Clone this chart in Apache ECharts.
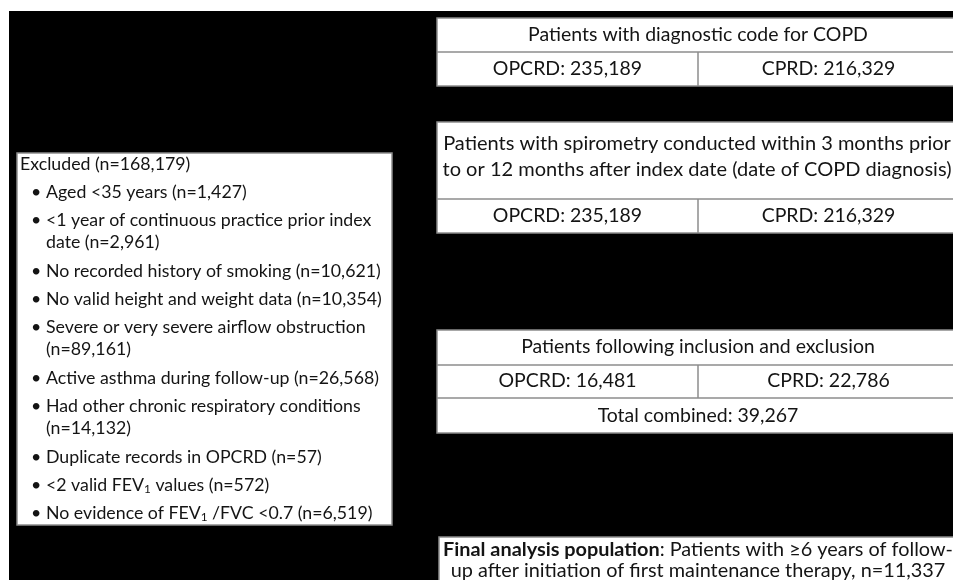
<!DOCTYPE html>
<html><head><meta charset="utf-8">
<script src="https://cdn.jsdelivr.net/npm/echarts@6/dist/echarts.min.js"></script>
<style>html,body{margin:0;padding:0;background:#fff}#c{width:953px;height:580px}</style>
</head><body><div id="c"></div>
<script>
// ---- content ----
const cohortTitle = 'Patients with diagnostic code for COPD';
const cohortCounts = ['OPCRD: 235,189', 'CPRD: 216,329'];
const spiroTitle = ['Patients with spirometry conducted within 3 months prior', 'to or 12 months after index date (date of COPD diagnosis)'];
const spiroCounts = ['OPCRD: 235,189', 'CPRD: 216,329'];
const includedTitle = 'Patients following inclusion and exclusion';
const includedCounts = ['OPCRD: 16,481', 'CPRD: 22,786'];
const includedTotal = 'Total combined: 39,267';
const excludedHeader = 'Excluded (n=168,179)';
const excludedItems = [
  ['Aged <35 years (n=1,427)'],
  ['<1 year of continuous practice prior index', 'date (n=2,961)'],
  ['No recorded history of smoking (n=10,621)'],
  ['No valid height and weight data (n=10,354)'],
  ['Severe or very severe airflow obstruction', '(n=89,161)'],
  ['Active asthma during follow-up (n=26,568)'],
  ['Had other chronic respiratory conditions', '(n=14,132)'],
  ['Duplicate records in OPCRD (n=57)'],
  ['<2 valid FEV{sub|1} values (n=572)'],
  ['No evidence of FEV{sub|1} /FVC <0.7 (n=6,519)']
];
const finalLines = ['{b|Final analysis population}: Patients with \u22656 years of follow-', 'up after initiation of first maintenance therapy, n=11,337'];

// ---- styling / layout ----
const FONT = 'Lato, "Open Sans", sans-serif';
const TXT = '#141414';
const BORDER = '#8c8c8c';
const ctx = document.createElement('canvas').getContext('2d');
function measure(t, size, weight) { ctx.font = (weight || 'normal') + ' ' + size + 'px ' + FONT; return ctx.measureText(t).width; }
const RS = 100 * 340 / measure(cohortTitle, 100);
const LS = 100 * 336 / measure('No valid height and weight data (n=10,354)', 100);
const SS = 100 * 508 / measure(spiroTitle[0], 100);
const FS = Math.min(SS, RS * 1.02);

const els = [];
function rect(x, y, w, h, fill, stroke) {
  els.push({ type: 'rect', shape: { x, y, width: w, height: h }, style: { fill, stroke: stroke || null, lineWidth: stroke ? 1.5 : 0 }, silent: true });
}
function line(x1, y1, x2, y2) {
  els.push({ type: 'line', shape: { x1, y1, x2, y2 }, style: { stroke: BORDER, lineWidth: 1.5 }, silent: true });
}
function richStyles(size) {
  return {
    n: { fontSize: size, fontFamily: FONT, fontWeight: 'normal', fill: TXT, verticalAlign: 'middle', lineHeight: 20 },
    b: { fontSize: size, fontFamily: FONT, fontWeight: 'bold', fill: TXT, verticalAlign: 'middle', lineHeight: 20 },
    sub: { fontSize: size * 0.66, fontFamily: FONT, fontWeight: 'normal', fill: TXT, verticalAlign: 'middle', lineHeight: size * 0.66, padding: [8, 0, 0, 0] }
  };
}
function text(t, x, y, size, align) {
  els.push({ type: 'text', x, y, silent: true, style: {
    text: t, fontSize: size, fontFamily: FONT, fill: TXT, lineHeight: 20,
    align: align || 'center', verticalAlign: 'middle', textAlign: align || 'center', textVerticalAlign: 'middle',
    rich: richStyles(size)
  }});
}

// background
rect(9, 11, 960, 580, '#000');

const X0 = 437, W = 522, MID = 698, C1 = (X0 + MID) / 2, C2 = (MID + X0 + W) / 2, CX = X0 + W / 2;

// box 1
rect(X0, 18, W, 68, '#fff', BORDER);
line(X0, 52, X0 + W, 52); line(MID, 52, MID, 86);
text(cohortTitle, CX, 35, RS);
text(cohortCounts[0], C1, 69, RS); text(cohortCounts[1], C2, 69, RS);

// box 2
rect(X0, 122, W, 111, '#fff', BORDER);
line(X0, 199, X0 + W, 199); line(MID, 199, MID, 233);
text(spiroTitle[0], CX - 1, 144, SS); text(spiroTitle[1], CX - 1, 170, SS);
text(spiroCounts[0], C1, 216, RS); text(spiroCounts[1], C2, 216, RS);

// box 3
rect(X0, 330, W, 103, '#fff', BORDER);
line(X0, 365, X0 + W, 365); line(X0, 398, X0 + W, 398); line(MID, 365, MID, 398);
text(includedTitle, CX, 347, RS);
text(includedCounts[0], C1, 381, RS); text(includedCounts[1], C2, 381, RS);
text(includedTotal, CX, 416, RS);

// final box
rect(439, 537, 530, 80, '#fff', BORDER);
text(finalLines[0], CX, 550, FS); text(finalLines[1], CX, 571, FS);

// excluded box
rect(17, 153, 375, 372, '#fff', BORDER);
text(excludedHeader, 20, 164, LS, 'left');
let y = 192;
excludedItems.forEach(item => {
  text('\u2022', 31, y, LS, 'left');
  item.forEach((ln, i) => { text(ln, 46, y + i * 22, LS, 'left'); });
  y += (item.length - 1) * 22 + 28.4;
});

const chart = echarts.init(document.getElementById('c'), null, { renderer: 'canvas' });
chart.setOption({ backgroundColor: '#fff', animation: false, graphic: { elements: els } });
</script></body></html>
